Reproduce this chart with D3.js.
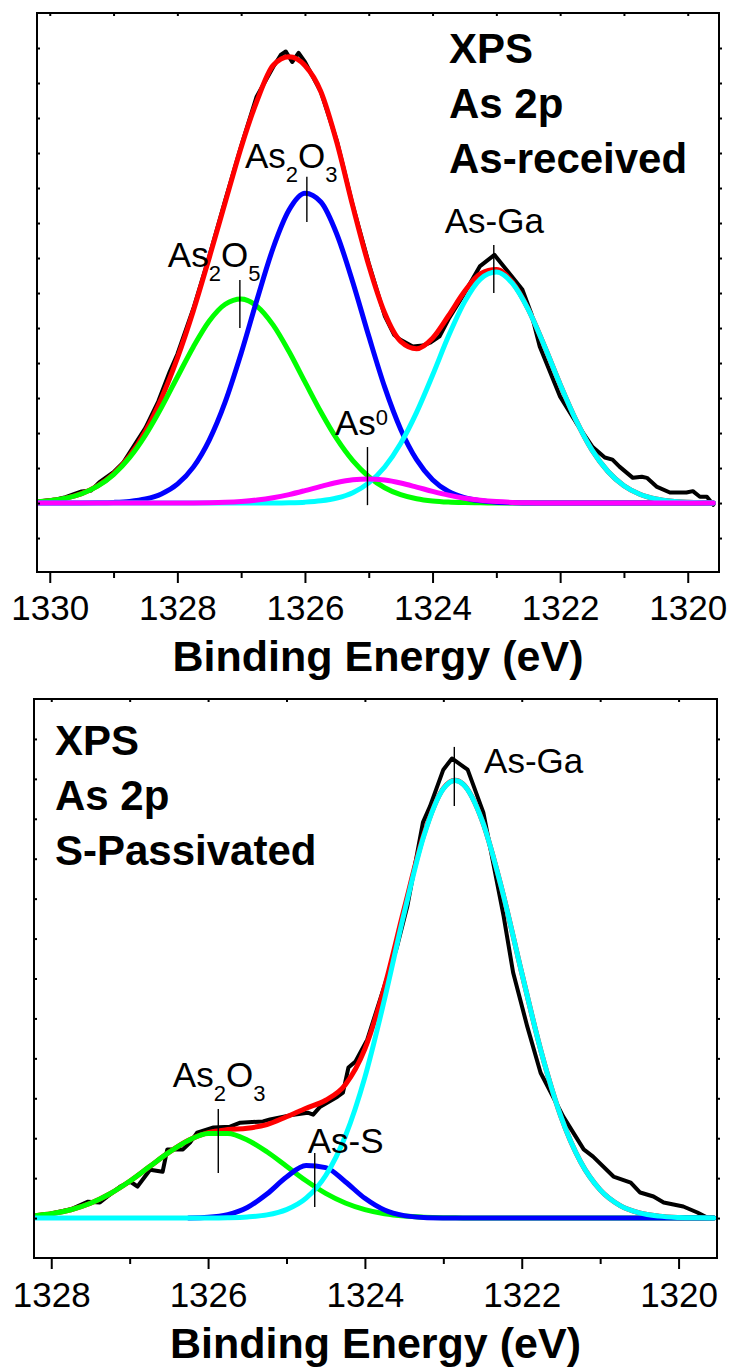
<!DOCTYPE html>
<html><head><meta charset="utf-8">
<script src="https://cdn.jsdelivr.net/npm/d3@7"></script>
<style>body{margin:0;background:#fff}svg{display:block}text{font-family:"Liberation Sans",Arial,sans-serif;fill:#000}</style>
</head><body><svg id="c" width="732" height="1367"></svg>
<script>
// ---------- TOP PANEL DATA (As-received) ----------
const topBE = [1330.2,1330.0,1329.75,1329.5,1329.25,1329.0,1328.75,1328.5,1328.25,1328.0,1327.75,1327.5,1327.25,1327.0,1326.75,1326.5,1326.25,1326.0,1325.75,1325.5,1325.25,1325.0,1324.75,1324.5,1324.25,1324.0,1323.75,1323.5,1323.25,1323.0,1322.75,1322.5,1322.25,1322.0,1321.75,1321.5,1321.25,1321.0,1320.75,1320.5,1320.25,1320.0,1319.75,1319.6];
const topEnvelope = [0.036,0.068,0.139,0.268,0.487,0.832,1.343,2.055,2.99,4.14,5.49,7.01,8.59,10.16,11.5,12.5,12.75,12.5,11.75,10.3,8.48,6.79,5.43,4.62,4.41,4.71,5.35,6.04,6.55,6.67,6.31,5.54,4.50,3.39,2.36,1.51,0.902,0.495,0.251,0.118,0.051,0.021,0.008,0.004];
const topAs2O5 = [0.036,0.068,0.138,0.266,0.481,0.814,1.296,1.94,2.73,3.60,4.46,5.20,5.68,5.83,5.62,5.09,4.33,3.46,2.60,1.83,1.21,0.752,0.438,0.240,0.124,0.060,0.027,0.012,0.005,0.002,0,0,0,0,0,0,0,0,0,0,0,0,0,0];
const topAs2O3 = [0,0,0.001,0.002,0.006,0.018,0.047,0.115,0.26,0.539,1.026,1.80,2.89,4.28,5.82,7.28,8.37,8.85,8.60,7.68,6.31,4.77,3.31,2.11,1.24,0.668,0.331,0.151,0.063,0.024,0.009,0.003,0.001,0,0,0,0,0,0,0,0,0,0,0];
const topAsGa = [0,0,0,0,0,0,0,0,0,0,0,0,0,0,0.001,0.003,0.010,0.026,0.063,0.143,0.297,0.577,1.03,1.70,2.59,3.65,4.77,5.74,6.40,6.60,6.28,5.53,4.50,3.39,2.36,1.51,0.902,0.495,0.251,0.118,0.051,0.021,0.008,0.004];
const topAs0 = [0,0,0,0,0,0,0,0,0,0.001,0.004,0.010,0.022,0.046,0.087,0.151,0.242,0.355,0.477,0.588,0.665,0.69,0.656,0.572,0.457,0.335,0.226,0.139,0.079,0.041,0.019,0.008,0.003,0.001,0,0,0,0,0,0,0,0,0,0];
const topDataBE = [1330.2,1330.05,1329.9,1329.75,1329.6,1329.5,1329.35,1329.22,1329.0,1328.85,1328.7,1328.5,1328.3,1328.12,1328.0,1327.75,1327.5,1327.25,1327.0,1326.76,1326.5,1326.38,1326.30,1326.20,1326.10,1326.0,1325.75,1325.5,1325.25,1325.0,1324.75,1324.6,1324.51,1324.31,1324.15,1324.04,1323.89,1323.75,1323.53,1323.26,1323.03,1322.88,1322.59,1322.45,1322.32,1322.0,1321.75,1321.49,1321.3,1321.18,1321.07,1320.86,1320.72,1320.64,1320.49,1320.28,1320.12,1320.02,1319.92,1319.81,1319.70,1319.6];
const topDataI  = [0.04,0.07,0.10,0.17,0.27,0.33,0.36,0.60,0.88,1.15,1.58,2.15,2.90,3.75,4.25,5.55,7.05,8.65,10.2,11.6,12.45,12.8,12.9,12.6,12.86,12.6,11.75,10.35,8.5,6.85,5.35,4.8,4.67,4.47,4.5,4.58,4.76,5.25,5.9,6.76,7.09,6.75,6.09,5.4,4.47,3.04,2.3,1.6,1.3,1.24,1.04,0.72,0.75,0.72,0.47,0.30,0.30,0.30,0.34,0.18,0.18,-0.05];

// ---------- BOTTOM PANEL DATA (S-Passivated) ----------
const botBE = [1328.2,1328.0,1327.75,1327.5,1327.25,1327.0,1326.75,1326.5,1326.25,1326.0,1325.75,1325.5,1325.25,1325.0,1324.75,1324.5,1324.25,1324.0,1323.75,1323.5,1323.25,1323.0,1322.85,1322.75,1322.5,1322.25,1322.0,1321.75,1321.5,1321.25,1321.0,1320.75,1320.5,1320.25,1320.0,1319.75,1319.55];
const botEnvelope = [0.060,0.107,0.208,0.371,0.610,0.922,1.284,1.646,1.95,2.14,2.216,2.249,2.342,2.538,2.75,2.951,3.34,4.237,5.791,7.743,9.597,10.761,10.966,10.874,9.931,8.21,6.14,4.15,2.54,1.41,0.707,0.320,0.131,0.049,0.016,0.005,0.001];
const botAs2O3 = [0.060,0.107,0.208,0.371,0.610,0.922,1.284,1.646,1.945,2.116,2.12,1.956,1.66,1.299,0.935,0.620,0.379,0.213,0.110,0.052,0.023,0.009,0.006,0.004,0.001,0,0,0,0,0,0,0,0,0,0,0,0];
const botAsS = [null,null,null,null,null,null,null,null,0.004,0.022,0.088,0.266,0.603,1.028,1.316,1.264,0.911,0.494,0.201,0.061,0.014,0.002,0,0,0,0,0,0,0,0,0,0,0,0,0,0,0];
const botAsGa = [0,0,0,0,0,0,0,0,0.001,0.002,0.008,0.027,0.079,0.211,0.499,1.067,2.05,3.53,5.48,7.63,9.56,10.75,10.96,10.87,9.93,8.21,6.14,4.15,2.54,1.41,0.707,0.320,0.131,0.049,0.016,0.005,0.001];
const botDataBE = [1328.22,1328.01,1327.75,1327.53,1327.38,1327.12,1326.99,1326.90,1326.74,1326.58,1326.52,1326.32,1326.23,1326.14,1325.93,1325.72,1325.59,1325.30,1325.21,1324.91,1324.73,1324.66,1324.57,1324.35,1324.28,1324.21,1324.12,1323.97,1323.59,1323.46,1323.26,1323.17,1323.00,1322.89,1322.69,1322.49,1322.23,1322.11,1321.93,1321.76,1321.47,1321.21,1321.09,1320.83,1320.61,1320.49,1320.32,1320.19,1319.94,1319.76,1319.63,1319.52];
const botDataI  = [0.06,0.11,0.22,0.41,0.39,0.79,0.91,0.79,1.21,1.16,1.72,1.72,1.89,2.14,2.27,2.29,2.39,2.42,2.47,2.59,2.64,2.59,2.79,3.04,3.14,3.77,3.92,4.47,6.80,7.80,9.91,10.31,11.23,11.51,11.23,10.16,7.55,6.15,4.80,3.64,2.54,1.72,1.54,1.04,0.89,0.64,0.54,0.39,0.29,0.14,0.01,0];

// ---------- TICKS ----------
const topMajor = [1330,1328,1326,1324,1322,1320];
const topMinor = [1329,1327,1325,1323,1321];
const botMajor = [1328,1326,1324,1322,1320];
const botMinor = [1327,1325,1323,1321];
const topYTicks = [-1,0,1,2,3,4,5,6,7,8,9,10,11,12,13];
const botYTicks = [0,1,2,3,4,5,6,7,8,9,10,11,12];

const svg = d3.select("#c");
const C = {red:"#ff0000", green:"#00ff00", blue:"#0000ff", cyan:"#00ffff", magenta:"#ff00ff", black:"#000000"};

function panel(cfg){
  const x = d3.scaleLinear().domain(cfg.xDom).range([cfg.x0, cfg.x1]);
  const y = d3.scaleLinear().domain(cfg.yDom).range([cfg.y1, cfg.y0]);
  const g = svg.append("g");
  const cid = "clip" + cfg.id;
  svg.append("defs").append("clipPath").attr("id", cid).append("rect")
    .attr("x", cfg.x0).attr("y", cfg.y0).attr("width", cfg.x1-cfg.x0).attr("height", cfg.y1-cfg.y0);
  const plot = g.append("g").attr("clip-path", `url(#${cid})`);

  const dl = d3.line().x((d,i)=>x(cfg.dataBE[i])).y(d=>y(d)).curve(d3.curveLinear);
  plot.append("path").attr("d", dl(cfg.dataI)).attr("fill","none").attr("stroke",C.black)
    .attr("stroke-width",4).attr("stroke-linejoin","round").attr("stroke-linecap","round");

  cfg.series.forEach(s=>{
    const ln = d3.line().defined(d=>d!=null).x((d,i)=>x(cfg.be[i])).y(d=>y(d)).curve(d3.curveMonotoneX);
    plot.append("path").attr("d", ln(s.v)).attr("fill","none").attr("stroke",s.c)
      .attr("stroke-width",5).attr("stroke-linejoin","round").attr("stroke-linecap","round");
  });

  g.append("rect").attr("x",cfg.x0).attr("y",cfg.y0).attr("width",cfg.x1-cfg.x0).attr("height",cfg.y1-cfg.y0)
    .attr("fill","none").attr("stroke","#000").attr("stroke-width",2);

  const style = sel => { sel.select(".domain").remove(); sel.selectAll("line").attr("stroke","#000").attr("stroke-width",2); };
  const ax = g.append("g").attr("transform",`translate(0,${cfg.y1})`)
    .call(d3.axisBottom(x).tickValues(cfg.major).tickSize(11).tickFormat(d3.format("d")));
  style(ax);
  ax.selectAll("text").attr("dy",null).attr("y",cfg.labelOff).attr("font-size",35)
    .style("font-family","'Liberation Sans',Arial,sans-serif").attr("fill","#000");
  const axm = g.append("g").attr("transform",`translate(0,${cfg.y1})`)
    .call(d3.axisBottom(x).tickValues(cfg.minor).tickSize(6).tickFormat(""));
  style(axm);
  const axt = g.append("g").attr("transform",`translate(0,${cfg.y0})`)
    .call(d3.axisTop(x).tickValues(cfg.major.concat(cfg.minor)).tickSize(-3).tickFormat(""));
  style(axt);
  const ayl = g.append("g").attr("transform",`translate(${cfg.x0},0)`)
    .call(d3.axisLeft(y).tickValues(cfg.yTicks).tickSize(-3).tickFormat(""));
  style(ayl);
  const ayr = g.append("g").attr("transform",`translate(${cfg.x1},0)`)
    .call(d3.axisRight(y).tickValues(cfg.yTicks).tickSize(3).tickFormat(""));
  style(ayr);

  g.append("text").attr("x",(cfg.x0+cfg.x1)/2).attr("y",cfg.y1+cfg.titleOff)
    .attr("text-anchor","middle").attr("font-size",43).attr("font-weight","bold")
    .text("Binding Energy (eV)");

  cfg.header.forEach((t,i)=>{
    g.append("text").attr("x",cfg.hx).attr("y",cfg.hy+i*55).attr("font-size",42).attr("font-weight","bold").text(t);
  });

  cfg.ann.forEach(a=>{
    g.append("line").attr("x1",x(a.be)).attr("x2",x(a.be)).attr("y1",y(a.top)).attr("y2",y(a.bot))
      .attr("stroke","#000").attr("stroke-width",1.4);
    const t = g.append("text").attr("x",x(a.lbe)).attr("y",y(a.lv)).attr("font-size",35);
    a.parts.forEach(p=>{
      const ts = t.append("tspan").text(p.t);
      if(p.s==="sub"){ ts.attr("font-size",22).attr("dy",14); }
      else if(p.s==="sup"){ ts.attr("font-size",22).attr("dy",-10); }
      else if(p.after){ ts.attr("dy",-14); }
    });
  });
}

panel({
  id:"t", x0:37, x1:719, y0:13, y1:572, xDom:[1330.2,1319.51], yDom:[-1.97,14],
  be:topBE, dataBE:topDataBE, dataI:topDataI,
  series:[{v:topEnvelope,c:C.red},{v:topAs2O5,c:C.green},{v:topAs2O3,c:C.blue},{v:topAsGa,c:C.cyan},{v:topAs0,c:C.magenta}],
  major:topMajor, minor:topMinor, yTicks:topYTicks, labelOff:48, titleOff:99,
  header:["XPS","As 2p","As-received"], hx:449, hy:63,
  ann:[
    {be:1325.97, top:9.32, bot:8.03, lbe:1326.94, lv:9.57, parts:[{t:"As"},{t:"2",s:"sub"},{t:"O",after:true},{t:"3",s:"sub"}]},
    {be:1327.02, top:6.37, bot:5.0, lbe:1328.15, lv:6.74, parts:[{t:"As"},{t:"2",s:"sub"},{t:"O",after:true},{t:"5",s:"sub"}]},
    {be:1325.02, top:1.6, bot:-0.06, lbe:1325.53, lv:1.94, parts:[{t:"As"},{t:"0",s:"sup"}]},
    {be:1323.04, top:7.37, bot:6.0, lbe:1323.81, lv:7.72, parts:[{t:"As-Ga"}]}
  ]
});

panel({
  id:"b", x0:34, x1:717, y0:699, y1:1258, xDom:[1328.22,1319.51], yDom:[-1,13],
  be:botBE, dataBE:botDataBE, dataI:botDataI,
  series:[{v:botEnvelope,c:C.red},{v:botAs2O3,c:C.green},{v:botAsS,c:C.blue},{v:botAsGa,c:C.cyan}],
  major:botMajor, minor:botMinor, yTicks:botYTicks, labelOff:49, titleOff:100,
  header:["XPS","As 2p","S-Passivated"], hx:55, hy:755,
  ann:[
    {be:1322.86, top:11.8, bot:10.32, lbe:1322.48, lv:11.14, parts:[{t:"As-Ga"}]},
    {be:1325.87, top:2.73, bot:1.13, lbe:1326.45, lv:3.28, parts:[{t:"As"},{t:"2",s:"sub"},{t:"O",after:true},{t:"3",s:"sub"}]},
    {be:1324.64, top:1.63, bot:0.28, lbe:1324.73, lv:1.63, parts:[{t:"As-S"}]}
  ]
});
</script></body></html>
